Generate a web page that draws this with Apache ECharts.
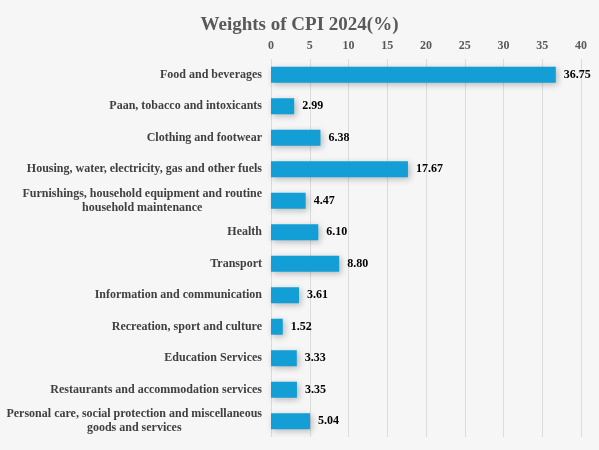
<!DOCTYPE html>
<html><head><meta charset="utf-8">
<script src="https://cdn.jsdelivr.net/npm/echarts@6/dist/echarts.min.js"></script>
<style>html,body{margin:0;padding:0;background:#f6f6f6}#c{width:599px;height:450px}</style>
</head><body><div id="c"></div>
<script>
const categories = [
  "Food and beverages",
  "Paan, tobacco and intoxicants",
  "Clothing and footwear",
  "Housing, water, electricity, gas and other fuels",
  "Furnishings, household equipment and routine\nhousehold maintenance",
  "Health",
  "Transport",
  "Information and communication",
  "Recreation, sport and culture",
  "Education Services",
  "Restaurants and accommodation services",
  "Personal care, social protection and miscellaneous\ngoods and services"
];
const weights = [36.75, 2.99, 6.38, 17.67, 4.47, 6.10, 8.80, 3.61, 1.52, 3.33, 3.35, 5.04];
const xTicks = [0, 5, 10, 15, 20, 25, 30, 35, 40];

const FONT = "Liberation Serif";
const chart = echarts.init(document.getElementById('c'));
chart.setOption({
  backgroundColor: '#f6f6f6',
  animation: false,
  title: {
    text: 'Weights of CPI 2024(%)',
    left: 'center', top: 11,
    textStyle: { fontFamily: FONT, fontSize: 19, fontWeight: 'bold', color: '#595959' }
  },
  grid: { left: 271, right: 18, top: 59, bottom: 13 },
  xAxis: {
    type: 'value', position: 'top',
    min: xTicks[0], max: xTicks[xTicks.length - 1], interval: xTicks[1] - xTicks[0],
    axisLine: { show: false }, axisTick: { show: false },
    axisLabel: { fontFamily: FONT, fontSize: 12, fontWeight: 'bold', color: '#595959', margin: 7 },
    splitLine: { lineStyle: { color: '#dcdcdc', width: 1 } }
  },
  yAxis: {
    type: 'category', inverse: true, data: categories,
    axisLine: { show: false }, axisTick: { show: false },
    axisLabel: {
      margin: 9,
      formatter: function (v) {
        if (v.indexOf('\n') < 0) return '{r|' + v + '}';
        return v.split('\n').map(function (l) { return '{c|' + l + '}'; }).join('\n');
      },
      rich: {
        r: { fontFamily: FONT, fontSize: 12, fontWeight: 'bold', color: '#404040', align: 'right' },
        c: { fontFamily: FONT, fontSize: 12, fontWeight: 'bold', color: '#404040', align: 'center', lineHeight: 14 }
      }
    }
  },
  series: [{
    type: 'bar', data: weights, barWidth: 16,
    itemStyle: { color: '#139fd6', shadowColor: 'rgba(0,0,0,0.25)', shadowBlur: 6, shadowOffsetX: 2, shadowOffsetY: 2 },
    label: {
      show: true, position: 'right', distance: 8,
      formatter: function (p) { return p.value.toFixed(2); },
      fontFamily: FONT, fontSize: 12, fontWeight: 'bold', color: '#000'
    }
  }]
});
</script></body></html>
